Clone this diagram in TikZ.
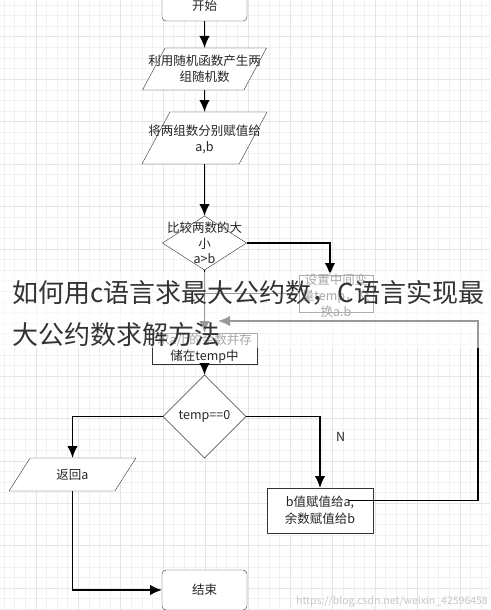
\documentclass[tikz,border=0pt]{standalone}
\usepackage{fontspec}
\newfontfamily\cjk{Noto Sans CJK SC}
\usetikzlibrary{arrows.meta,positioning,shapes.geometric}
\definecolor{shapeline}{HTML}{333333}
\definecolor{gridminor}{HTML}{F1F1F1}
\definecolor{gridmajor}{HTML}{E5E5E5}

\begin{document}
\begin{tikzpicture}[x=1pt,y=1pt,>={Latex[length=12pt,width=10.5pt]},
			every node/.style = {font=\cjk\fontsize{12.5}{15.5}\selectfont, text=black!85},
			block/.style = {draw=shapeline, fill=white, shape=rectangle, align=center, inner sep=0pt, outer sep=0pt},
			rblock/.style = {block, rounded corners=4pt},
			tblock/.style = {draw=shapeline, fill=white, shape=trapezium, trapezium stretches=true,
				align=center, inner sep=1pt, outer sep=0pt},
			decision/.style = {draw=shapeline, fill=white, shape=diamond, align=center, inner sep=1pt, outer sep=0pt},
			txt/.style = {align=center},
			flow/.style = {draw=black, line width=1.7pt}
			]
			\useasboundingbox (0,0) rectangle (490,-610);
			\fill[white] (0,0) rectangle (490,-610);
			% grid
			\draw[gridminor, line width=0.6pt, shift={(4,-5)}, step=10.6] (-4,5) grid (486,-605);
			\draw[gridmajor, line width=0.6pt, shift={(35.8,-36.8)}, step=42.4] (-35.8,36.8) grid (454.2,-573.2);
			\node [rblock, minimum width=85pt, minimum height=30pt] (start) at (204.5,-6) {开始};
			\node [tblock, trapezium left angle=74, trapezium right angle=106, minimum width=124pt, minimum height=42pt,
				below=27pt of start, label={[txt]center:利用随机函数产生两\\组随机数}] (rand) {};
			\node [tblock, trapezium left angle=68, trapezium right angle=112, minimum width=125pt, minimum height=52pt,
				below=22pt of rand, label={[txt,yshift=-1.5pt]center:将两组数分别赋值给\\a,b}] (setab) {};
			\node [decision, minimum width=84pt, minimum height=54pt, below=52pt of setab,
				label={[txt]center:比较两数的大\\小\\a>b}] (cmp) {};
			\node [block, minimum width=74pt, minimum height=37pt,
				label={[txt,yshift=-2.5pt,font=\cjk\fontsize{12.5}{16}\selectfont]center:设置中间变\\量temp，交\\换a.b}] (swap) at (336,-293.5) {};
			\node [block, minimum width=105pt, minimum height=31pt, below=63pt of cmp,
				font=\cjk\fontsize{12.5}{16.5}\selectfont] (rem) {求a/b的余数并存\\储在temp中};
			\node [decision, minimum width=83pt, minimum height=83pt, below=11pt of rem] (iszero) {temp==0};
			\node [tblock, trapezium left angle=57.5, trapezium right angle=122.5, minimum width=127pt, minimum height=33pt]
				(ret) at (72.5,-474.5) {返回a};
			\node [rblock, minimum width=85pt, minimum height=40pt, below=112pt of iszero] (end) {结束};
			\node [block, minimum width=106pt, minimum height=45pt, font=\cjk\fontsize{12.5}{16.5}\selectfont]
				(assign) at (320,-510.5) {b值赋值给a,\\余数赋值给b};
			\coordinate (loopr) at (478,-321);
			\coordinate (back) at (218,-321);
			\draw[flow,->] (start) -- (rand);
			\draw[flow,->] (rand) -- (setab);
			\draw[flow,->] (setab) -- (cmp);
			\draw[flow,->] (cmp.east) -| ([xshift=-6pt]swap.north);
			\draw[flow] (swap.west) -- (swap.west -| cmp.south);
			\draw[flow,->] (cmp) -- (rem);
			\draw[flow,->] (rem) -- (iszero);
			\draw[flow,->] (iszero.west) -| (ret);
			\draw[flow,->] (iszero.east) -| node[pos=0.64, right=12pt]{N} (assign);
			\draw[flow,->] (ret) |- (end.west);
			\draw[flow,->] ([xshift=-25pt,yshift=10pt]assign.east) -| (loopr) -- (back);
			% title band over the chart
			\fill[white, opacity=0.6] (0,-272) rectangle (490,-348);
			\node [anchor=base west, inner sep=0pt, font=\cjk\fontsize{26}{42}\selectfont, text=black!80]
				(title1) at (12,-302) {如何用c语言求最大公约数，C语言实现最};
			\node [anchor=base west, inner sep=0pt, font=\cjk\fontsize{26}{42}\selectfont, text=black!80]
				(title2) at (12,-344) {大公约数求解方法};
			\node [anchor=east, inner sep=0pt, font=\cjk\fontsize{10.5}{12}\selectfont, text=black!22]
				(mark) at (488,-602) {https://blog.csdn.net/weixin\_42596458};
		\end{tikzpicture}
\end{document}
